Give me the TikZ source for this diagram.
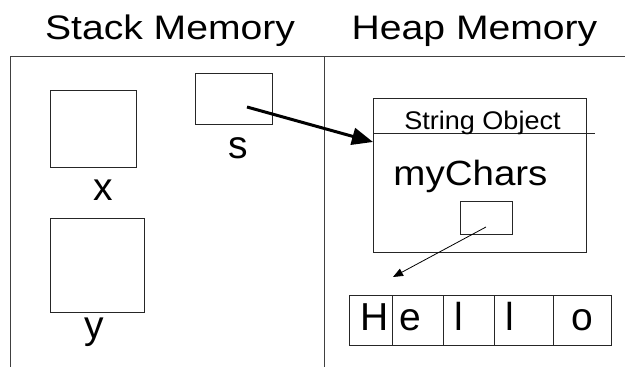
\documentclass[tikz,border=0pt]{standalone}
\usepackage{fontspec}
\usepackage{graphicx}
\setmainfont{Liberation Sans}
\usetikzlibrary{arrows.meta,calc}
\newcommand{\hs}[2]{\scalebox{#1}[1]{#2}}
\begin{document}
\begin{tikzpicture}[x=1pt,y=-1pt,
  frame/.style={draw=black!75,line width=1pt},
  box/.style={draw=black!85,line width=1pt,inner sep=0pt,fill=none},
  txt/.style={anchor=base,inner sep=0pt,text=black},
  title/.style={txt,font=\fontsize{34}{40}\selectfont},
  big/.style={txt,font=\fontsize{39}{44}\selectfont},
  mid/.style={txt,font=\fontsize{35}{40}\selectfont},
  small/.style={txt,font=\fontsize{25.5}{30}\selectfont},
  bigarrow/.style={line width=3pt,-{Triangle[length=21pt,width=17pt]}},
  thinarrow/.style={line width=0.8pt,-{Triangle[length=10pt,width=8pt]}}]
\useasboundingbox (0,0) rectangle (625,367);
% frame
\coordinate (ftl) at (10,56);
\coordinate (ftr) at (625,56);
\coordinate (fbl) at (10,367);
\coordinate (fmt) at (324,56);
\coordinate (fmb) at (324,367);
\draw[frame] (fbl) -- (ftl) -- (ftr);
\draw[frame] (fmt) -- (fmb);
% titles
\node[title] (st) at (170,39.3) {\hs{1.15}{Stack Memory}};
\node[title] (ht) at (474.5,39.3) {\hs{1.15}{Heap Memory}};
% stack boxes
\node[box,minimum width=86pt,minimum height=77pt] (bx) at (93,128.5) {};
\node[box,minimum width=77pt,minimum height=51pt] (bs) at (233.5,98.5) {};
\node[box,minimum width=94pt,minimum height=94pt] (by) at (97,265) {};
\node[big] (lx) at (103,200.7) {x};
\node[big] (ls) at (238.5,158) {s};
\node[big] (ly) at (94,338) {y};
% heap object
\node[box,minimum width=213pt,minimum height=154pt] (so) at (479.5,175) {};
\coordinate (divL) at (373,133);
\coordinate (divR) at (595,133);
\draw[box] (divL) -- (divR);
\node[small] (sot) at (482.5,129.3) {\hs{1.06}{String Object}};
\node[mid] (mct) at (470.5,185) {\hs{1.1}{myChars}};
\node[box,minimum width=52pt,minimum height=33pt] (mc) at (486,217.5) {};
% Hello array
\node[box,minimum width=43pt,minimum height=50pt] (c1) at (370.8,320) {};
\node[box,minimum width=51pt,minimum height=50pt] (c2) at (417.8,320) {};
\node[box,minimum width=51pt,minimum height=50pt] (c3) at (468.8,320) {};
\node[box,minimum width=59pt,minimum height=50pt] (c4) at (523.8,320) {};
\node[box,minimum width=58.4pt,minimum height=50pt] (c5) at (582.5,320) {};
\node[big] (h1) at (374.5,330) {H};
\node[big] (h2) at (410,330) {e};
\node[big] (h3) at (458.5,330) {l};
\node[big] (h4) at (510,330) {l};
\node[big] (h5) at (582.5,330) {o};
% arrows
\coordinate (sptr) at (247,107);
\coordinate (sotip) at (373,142);
\draw[bigarrow] (sptr) -- (sotip);
\coordinate (mptr) at (486,227);
\coordinate (mtip) at (393,277);
\draw[thinarrow] (mptr) -- (mtip);
\end{tikzpicture}
\end{document}
